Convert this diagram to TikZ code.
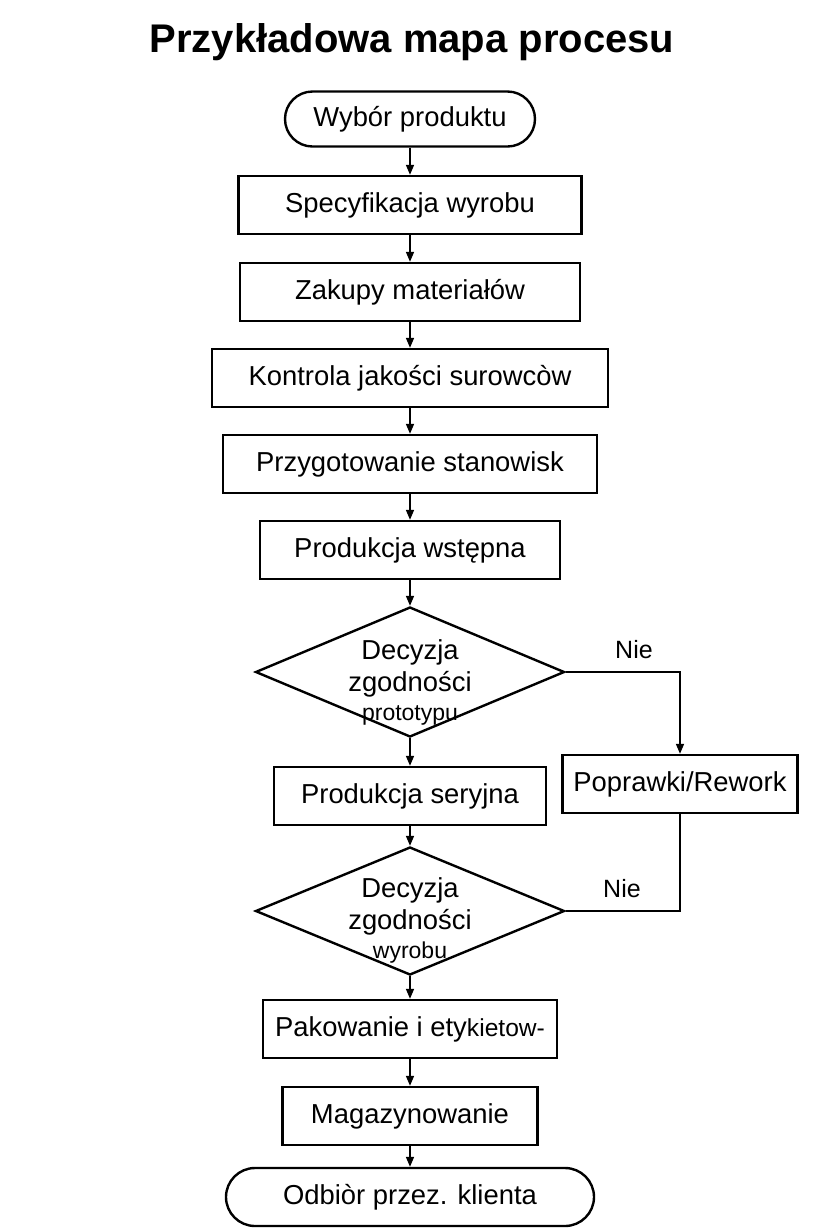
\documentclass[tikz,border=0pt]{standalone}
\usepackage{fontspec}
\setmainfont{Liberation Sans}
\usetikzlibrary{arrows.meta,shapes.geometric,shapes.misc}

\begin{document}
\begin{tikzpicture}[x=0.5pt,y=-0.5pt,
    procbox/.style={rectangle,draw,line width=1.2pt,minimum height=29pt,inner sep=0pt,font=\fontsize{13.7}{16}\selectfont},
    termbox/.style={rounded rectangle,draw,line width=1.2pt,minimum height=27.5pt,inner sep=0pt,font=\fontsize{13.7}{16}\selectfont},
    decbox/.style={diamond,draw,line width=1.2pt,minimum width=154.5pt,minimum height=65pt,inner sep=0pt},
    dectext/.style={align=center,inner sep=0pt,font=\fontsize{13.7}{16}\selectfont},
    nielabel/.style={inner sep=0pt,font=\fontsize{12.5}{15}\selectfont},
    flow/.style={line width=0.8pt,-{Triangle[length=5pt,width=4pt]}}]

    \newcommand*{\smalltxt}{\fontsize{11.5}{13}\selectfont}%

    \useasboundingbox (0,0) rectangle (819,1228);

    \node[font=\bfseries\fontsize{20}{24}\selectfont] (title) at (412,42) {Przykładowa mapa procesu};

    % main column
    \node[termbox,minimum width=125pt] (wybor) at (410,119) {Wybór produktu};
    \node[procbox,minimum width=171.5pt] (spec) at (410,205) {Specyfikacja wyrobu};
    \node[procbox,minimum width=170pt] (zakupy) at (410,292) {Zakupy materiałów};
    \node[procbox,minimum width=198pt] (kontrola) at (410,378) {Kontrola jakości surowcòw};
    \node[procbox,minimum width=187pt] (przyg) at (410,464) {Przygotowanie stanowisk};
    \node[procbox,minimum width=150pt] (prodwst) at (410,550) {Produkcja wstępna};

    \node[decbox] (dec1) at (410,672) {};
    \node[dectext] (dec1txt) at (410,682) {Decyzja\\zgodności\\[-1.5pt]{\smalltxt prototypu}};

    \node[procbox,minimum width=136pt] (seryjna) at (410,796) {Produkcja seryjna};
    \node[procbox,minimum width=117.5pt] (rework) at (680,784) {Poprawki/Rework};

    \node[decbox,minimum height=64pt] (dec2) at (410,911) {};
    \node[dectext] (dec2txt) at (410,920) {Decyzja\\zgodności\\[-1.5pt]{\smalltxt wyrobu}};

    \node[procbox,minimum width=147pt] (pakow) at (410,1029) {Pakowanie i ety{\fontsize{12.3}{15}\selectfont kietow-}};
    \node[procbox,minimum width=127.5pt] (magaz) at (410,1116) {Magazynowanie};
    \node[termbox,minimum width=184pt,minimum height=29pt] (odbior) at (410,1197) {Odbiòr przez. klienta};

    % arrows down ↓
    \foreach \a/\b in {wybor/spec,spec/zakupy,zakupy/kontrola,kontrola/przyg,przyg/prodwst,
                       prodwst/dec1,dec1/seryjna,seryjna/dec2,dec2/pakow,pakow/magaz,magaz/odbior}
        \draw[flow] (\a.south) -- (\b.north);

    % rework loop
    \node[nielabel] (nie1) at (634,650) {Nie};
    \draw[flow] (dec1.east) -| (rework.north);
    \node[nielabel] (nie2) at (622,889) {Nie};
    \draw[line width=0.8pt] (rework.south) |- (dec2.east);

\end{tikzpicture}
\end{document}
